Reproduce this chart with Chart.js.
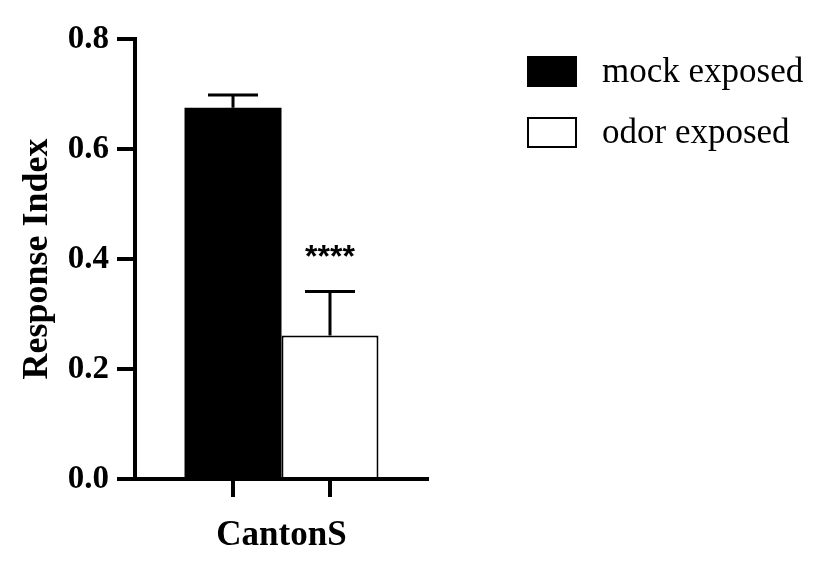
<!DOCTYPE html>
<html>
<head>
<meta charset="utf-8">
<script src="https://cdn.jsdelivr.net/npm/chart.js@4/dist/chart.umd.min.js"></script>
<style>
  html, body { margin: 0; padding: 0; background: #fff; }
  #wrap { width: 816px; height: 571px; }
</style>
</head>
<body>
<div id="wrap"><canvas id="riChart" width="816" height="571"></canvas></div>
<script>
// data
const categories = ['CantonS'];
const seriesNames = ['mock exposed', 'odor exposed'];
const mockValues = [0.675];
const odorValues = [0.261];
const mockErrors = [0.023];
const odorErrors = [0.080];
const odorStars = ['****'];
const yTicks = [0, 0.2, 0.4, 0.6, 0.8];

const serif = "'Liberation Serif', 'Times New Roman', serif";

// upward error bars + significance stars, from the bar elements
const errorBars = {
  id: 'errorBars',
  afterDatasetsDraw(chart) {
    const ctx = chart.ctx;
    const y = chart.scales.y;
    ctx.save();
    ctx.strokeStyle = '#000';
    ctx.lineWidth = 3;
    chart.data.datasets.forEach((ds, di) => {
      const meta = chart.getDatasetMeta(di);
      meta.data.forEach((bar, i) => {
        const top = y.getPixelForValue(ds.data[i] + ds.errors[i]);
        ctx.beginPath();
        ctx.moveTo(bar.x, bar.y);
        ctx.lineTo(bar.x, top);
        ctx.moveTo(bar.x - 25, top);
        ctx.lineTo(bar.x + 25, top);
        ctx.stroke();
        if (ds.stars && ds.stars[i]) {
          ctx.fillStyle = '#000';
          ctx.font = "bold 32px 'Liberation Sans', Arial, sans-serif";
          ctx.textAlign = 'center';
          ctx.textBaseline = 'middle';
          ctx.fillText(ds.stars[i], bar.x, top - 33);
        }
      });
    });
    ctx.restore();
  }
};

// tick marks under each bar on the x axis
const barTicks = {
  id: 'barTicks',
  afterDraw(chart) {
    const ctx = chart.ctx;
    const bottom = chart.chartArea.bottom;
    ctx.save();
    ctx.strokeStyle = '#000';
    ctx.lineWidth = 4;
    chart.data.datasets.forEach((ds, di) => {
      chart.getDatasetMeta(di).data.forEach(bar => {
        ctx.beginPath();
        ctx.moveTo(bar.x, bottom);
        ctx.lineTo(bar.x, bottom + 18);
        ctx.stroke();
      });
    });
    ctx.restore();
  }
};

// legend on the right, built from the datasets
const sideLegend = {
  id: 'sideLegend',
  afterDraw(chart) {
    const ctx = chart.ctx;
    ctx.save();
    ctx.font = '35px ' + serif;
    ctx.textBaseline = 'middle';
    ctx.textAlign = 'left';
    chart.data.datasets.forEach((ds, i) => {
      const bx = 528, by = 57 + i * 61;
      ctx.fillStyle = ds.backgroundColor;
      ctx.fillRect(bx, by, 48, 29);
      ctx.strokeStyle = '#000';
      ctx.lineWidth = 2;
      ctx.strokeRect(bx, by, 48, 29);
      ctx.fillStyle = '#000';
      ctx.fillText(ds.label, 602, by + 16);
    });
    ctx.restore();
  }
};

const riChart = new Chart(document.getElementById('riChart'), {
  type: 'bar',
  data: {
    labels: categories,
    datasets: [
      {
        label: seriesNames[0],
        data: mockValues,
        errors: mockErrors,
        backgroundColor: '#000',
        borderColor: '#000',
        borderWidth: 0
      },
      {
        label: seriesNames[1],
        data: odorValues,
        errors: odorErrors,
        stars: odorStars,
        backgroundColor: '#fff',
        borderColor: '#000',
        borderWidth: 2
      }
    ]
  },
  options: {
    responsive: false,
    animation: false,
    devicePixelRatio: 1,
    categoryPercentage: 0.662,
    barPercentage: 1,
    layout: { padding: { top: 39, right: 388, bottom: 0, left: 0 } },
    plugins: {
      legend: { display: false },
      tooltip: { enabled: false }
    },
    scales: {
      x: {
        grid: { display: true, drawOnChartArea: false, drawTicks: true, tickLength: 18, color: 'rgba(0,0,0,0)' },
        border: { display: true, color: '#000', width: 4 },
        ticks: { color: '#000', padding: 18, font: { family: serif, size: 35, weight: 'bold' } },
        afterFit(scale) { scale.height = 92; }
      },
      y: {
        min: 0,
        max: 0.8,
        afterBuildTicks(scale) { scale.ticks = yTicks.map(v => ({ value: v })); },
        grid: { display: true, drawOnChartArea: false, drawTicks: true, tickLength: 18, color: '#000', lineWidth: 4 },
        border: { display: true, color: '#000', width: 4 },
        ticks: {
          color: '#000',
          padding: 8,
          font: { family: serif, size: 33, weight: 'bold' },
          callback: v => v.toFixed(1)
        },
        title: {
          display: true,
          text: 'Response Index',
          color: '#000',
          padding: { top: 16, bottom: 10 },
          font: { family: serif, size: 36, weight: 'bold' }
        },
        afterFit(scale) { scale.width = 135; }
      }
    }
  },
  plugins: [errorBars, barTicks, sideLegend]
});
</script>
</body>
</html>
